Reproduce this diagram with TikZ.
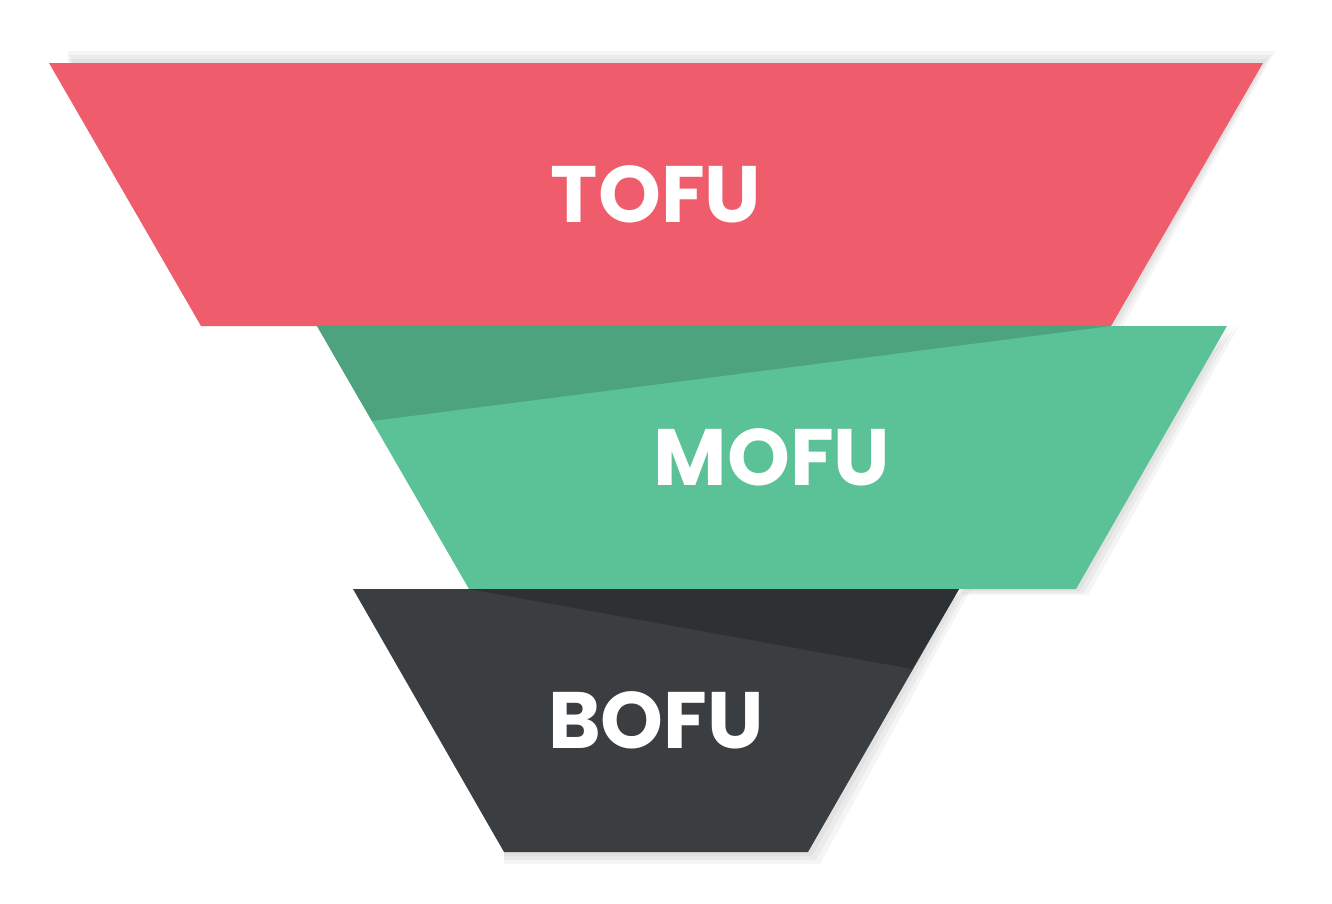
\documentclass[tikz,border=0pt]{standalone}
\usepackage{fontspec}
\setmainfont{Poppins}
\definecolor{tofu}{HTML}{EF5D6C}
\definecolor{mofu}{HTML}{5BC196}
\definecolor{mofud}{HTML}{4EA37F}
\definecolor{bofu}{HTML}{3A3E41}
\definecolor{bofud}{HTML}{2E3133}
\begin{document}
\begin{tikzpicture}[x=1pt,y=-1pt,
  lbl/.style={text=white,font=\fontsize{80}{80}\selectfont\bfseries,inner sep=0pt},
  shad/.style={fill=black,opacity=0.04}]
\useasboundingbox (0,0) rectangle (1332,903);
\foreach \d in {4,8,12}{
  \fill[shad] (67,63-\d) -- (1263+\d,63-\d) -- (1111+\d,326) -- (201,326) -- cycle;
  \fill[shad] (1227+\d,326) -- (1076+\d,589+\d/2) -- (959,589+\d/2) -- cycle;
  \fill[shad] (959+\d,589) -- (808+\d,852+\d) -- (504,852+\d) -- (504,852) -- cycle;
}
\fill[tofu] (49,63) -- (1263,63) -- (1111,326) -- (201,326) -- cycle;
\fill[mofu] (317,326) -- (1227,326) -- (1076,589) -- (469,589) -- cycle;
\fill[mofud] (317,326) -- (1111,326) -- (372,421) -- cycle;
\fill[bofu] (353,589) -- (959,589) -- (808,852) -- (504,852) -- cycle;
\fill[bofud] (469,589) -- (959,589) -- (912,669) -- cycle;
\node[lbl] (t) at (656,194) {TOFU};
\node[lbl] (m) at (772,457) {MOFU};
\node[lbl] (b) at (656,720) {BOFU};
\end{tikzpicture}
\end{document}
